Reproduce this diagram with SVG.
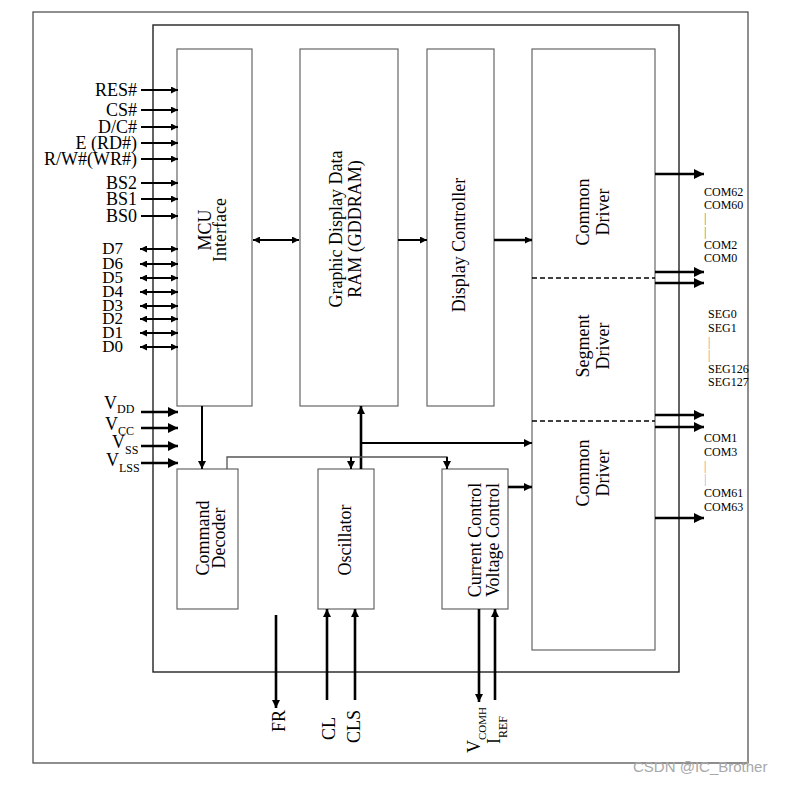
<svg xmlns="http://www.w3.org/2000/svg" width="785" height="785" viewBox="0 0 785 785">
<defs>
<style>
.t{font-family:"Liberation Serif","Times New Roman",serif;font-size:18px;fill:#000}
.d{font-size:17px}
.bl{font-family:"Liberation Serif","Times New Roman",serif;font-size:18px;fill:#000;text-anchor:middle}
.sub{font-size:12px}
.r{text-anchor:end}
.pin{font-family:"Liberation Serif","Times New Roman",serif;font-size:12px;fill:#000}
.g{fill:#3c9a50}
.o{fill:#e07a5f}
.b{fill:#7ab8e0}
.box{fill:#fff;stroke:#666;stroke-width:1.2}
.ln{stroke:#000;stroke-width:2;fill:none}
.thk{stroke:#000;stroke-width:2.6;fill:none}
.thin{stroke:#555;stroke-width:1.3;fill:none}
.dash{stroke:#000;stroke-width:1.5;stroke-dasharray:5 3;fill:none}
</style>
<marker id="sm" viewBox="0 0 10 10" refX="10" refY="5" markerWidth="7" markerHeight="7" markerUnits="userSpaceOnUse" orient="auto-start-reverse"><path d="M0,0L10,5L0,10z" fill="#000"/></marker>
<marker id="md" viewBox="0 0 10 10" refX="10" refY="5" markerWidth="9" markerHeight="8" markerUnits="userSpaceOnUse" orient="auto-start-reverse"><path d="M0,0L10,5L0,10z" fill="#000"/></marker>
<marker id="lg" viewBox="0 0 10 10" refX="10" refY="5" markerWidth="12" markerHeight="10" markerUnits="userSpaceOnUse" orient="auto-start-reverse"><path d="M0,0L10,5L0,10z" fill="#000"/></marker>
</defs>
<rect width="785" height="785" fill="#fff"/>
<rect id="frame" x="33" y="12" width="715" height="751" fill="none" stroke="#444" stroke-width="1.2"/>
<rect id="chip" x="153" y="25" width="526" height="647" fill="none" stroke="#222" stroke-width="1.4"/>

<g id="mcu"><rect class="box" x="177" y="49" width="75" height="357"/>
<text class="bl" transform="translate(211,230) rotate(-90)"><tspan x="0" y="0">MCU</tspan><tspan x="0" y="15">Interface</tspan></text></g>
<g id="gddram"><rect class="box" x="300" y="49" width="98" height="357"/>
<text class="bl" transform="translate(342,229) rotate(-90)"><tspan x="0" y="0">Graphic Display Data</tspan><tspan x="0" y="19">RAM (GDDRAM)</tspan></text></g>
<g id="dispctrl"><rect class="box" x="427" y="49" width="67" height="357"/>
<text class="bl" transform="translate(465,245) rotate(-90)">Display Controller</text></g>
<g id="drivers"><rect class="box" x="532" y="49" width="123" height="601"/>
<text class="bl" transform="translate(589,212) rotate(-90)"><tspan x="0" y="0">Common</tspan><tspan x="0" y="20">Driver</tspan></text>
<text class="bl" transform="translate(589,346) rotate(-90)"><tspan x="0" y="0">Segment</tspan><tspan x="0" y="20">Driver</tspan></text>
<text class="bl" transform="translate(589,473) rotate(-90)"><tspan x="0" y="0">Common</tspan><tspan x="0" y="20">Driver</tspan></text>
<line class="dash" x1="532" y1="278" x2="655" y2="278"/>
<line class="dash" x1="532" y1="421" x2="655" y2="421"/></g>
<g id="cmddec"><rect class="box" x="177" y="469" width="61" height="140"/>
<text class="bl" transform="translate(209,538) rotate(-90)"><tspan x="0" y="0">Command</tspan><tspan x="0" y="16">Decoder</tspan></text></g>
<g id="osc"><rect class="box" x="318" y="469" width="56" height="140"/>
<text class="bl" transform="translate(351,540) rotate(-90)">Oscillator</text></g>
<g id="curctl"><rect class="box" x="442" y="469" width="66" height="140"/>
<text class="bl" transform="translate(481,540) rotate(-90)"><tspan x="0" y="0">Current Control</tspan><tspan x="0" y="18">Voltage Control</tspan></text></g>

<g id="connectors">
<line class="ln" x1="141" y1="90" x2="178" y2="90" marker-end="url(#sm)"/>
<line class="ln" x1="141" y1="110" x2="178" y2="110" marker-end="url(#sm)"/>
<line class="ln" x1="141" y1="127" x2="178" y2="127" marker-end="url(#sm)"/>
<line class="ln" x1="141" y1="143" x2="178" y2="143" marker-end="url(#sm)"/>
<line class="ln" x1="141" y1="159" x2="178" y2="159" marker-end="url(#sm)"/>
<line class="ln" x1="141" y1="183" x2="178" y2="183" marker-end="url(#sm)"/>
<line class="ln" x1="141" y1="199" x2="178" y2="199" marker-end="url(#sm)"/>
<line class="ln" x1="141" y1="216" x2="178" y2="216" marker-end="url(#sm)"/>
<line class="ln" x1="140" y1="249" x2="178" y2="249" marker-start="url(#sm)" marker-end="url(#sm)"/>
<line class="ln" x1="140" y1="264" x2="178" y2="264" marker-start="url(#sm)" marker-end="url(#sm)"/>
<line class="ln" x1="140" y1="278" x2="178" y2="278" marker-start="url(#sm)" marker-end="url(#sm)"/>
<line class="ln" x1="140" y1="292" x2="178" y2="292" marker-start="url(#sm)" marker-end="url(#sm)"/>
<line class="ln" x1="140" y1="306" x2="178" y2="306" marker-start="url(#sm)" marker-end="url(#sm)"/>
<line class="ln" x1="140" y1="319" x2="178" y2="319" marker-start="url(#sm)" marker-end="url(#sm)"/>
<line class="ln" x1="140" y1="333" x2="178" y2="333" marker-start="url(#sm)" marker-end="url(#sm)"/>
<line class="ln" x1="140" y1="347" x2="178" y2="347" marker-start="url(#sm)" marker-end="url(#sm)"/>
<line class="thk" x1="141" y1="412" x2="178" y2="412" marker-end="url(#lg)"/>
<line class="thk" x1="141" y1="428" x2="178" y2="428" marker-end="url(#lg)"/>
<line class="thk" x1="141" y1="446" x2="178" y2="446" marker-end="url(#lg)"/>
<line class="thk" x1="141" y1="463" x2="178" y2="463" marker-end="url(#lg)"/>
<line class="ln" x1="253" y1="240" x2="299" y2="240" marker-start="url(#sm)" marker-end="url(#sm)"/>
<line class="ln" x1="398" y1="240" x2="427" y2="240" marker-end="url(#sm)"/>
<line class="thk" x1="494" y1="240" x2="532" y2="240" marker-end="url(#sm)"/>
<line class="ln" x1="202" y1="406" x2="202" y2="469" marker-end="url(#md)"/>
<line class="thk" x1="361" y1="469" x2="361" y2="406" marker-end="url(#md)"/>
<line class="ln" x1="361" y1="443" x2="532" y2="443" marker-end="url(#md)"/>
<polyline class="thin" points="227,469 227,457 447,457 447,469"/>
<line class="ln" x1="447" y1="457" x2="447" y2="469" marker-end="url(#md)"/>
<line class="ln" x1="351" y1="457" x2="351" y2="469" marker-end="url(#md)"/>
<line class="thk" x1="508" y1="487" x2="532" y2="487" marker-end="url(#md)"/>
<line class="thk" x1="655" y1="174" x2="704" y2="174" marker-end="url(#lg)"/>
<line class="thk" x1="655" y1="272" x2="704" y2="272" marker-end="url(#lg)"/>
<line class="thk" x1="655" y1="283" x2="704" y2="283" marker-end="url(#lg)"/>
<line class="thk" x1="655" y1="415" x2="704" y2="415" marker-end="url(#lg)"/>
<line class="thk" x1="655" y1="427" x2="704" y2="427" marker-end="url(#lg)"/>
<line class="thk" x1="655" y1="518" x2="704" y2="518" marker-end="url(#lg)"/>
<line class="thk" x1="276" y1="615" x2="276" y2="708" marker-end="url(#md)"/>
<line class="thk" x1="327" y1="700" x2="327" y2="609" marker-end="url(#md)"/>
<line class="thk" x1="355" y1="700" x2="355" y2="609" marker-end="url(#md)"/>
<line class="thk" x1="479" y1="609" x2="479" y2="702" marker-end="url(#md)"/>
<line class="thk" x1="495" y1="700" x2="495" y2="609" marker-end="url(#md)"/>
</g>

<g id="left-labels">
<text class="t r" x="137" y="96">RES#</text>
<text class="t r" x="137" y="116">CS#</text>
<text class="t r" x="137" y="133">D/C#</text>
<text class="t r" x="137" y="149">E (RD#)</text>
<text class="t r" x="137" y="165">R/W#(WR#)</text>
<text class="t r" x="137" y="189">BS2</text>
<text class="t r" x="137" y="205">BS1</text>
<text class="t r" x="137" y="222">BS0</text>
<text class="t d r" x="123" y="254">D7</text>
<text class="t d r" x="123" y="269">D6</text>
<text class="t d r" x="123" y="283">D5</text>
<text class="t d r" x="123" y="297">D4</text>
<text class="t d r" x="123" y="311">D3</text>
<text class="t d r" x="123" y="324">D2</text>
<text class="t d r" x="123" y="338">D1</text>
<text class="t d r" x="123" y="352">D0</text>
<text class="t" x="104" y="409">V<tspan class="sub" dy="4">DD</tspan></text>
<text class="t" x="105" y="430">V<tspan class="sub" dy="5">CC</tspan></text>
<text class="t" x="112" y="448">V<tspan class="sub" dy="6">SS</tspan></text>
<text class="t" x="106" y="466">V<tspan class="sub" dy="6">LSS</tspan></text>
</g>

<g id="right-labels">
<text class="pin" x="704" y="196">COM62</text>
<text class="pin" x="704" y="209">COM60</text>
<text class="pin g" x="704" y="222">|</text>
<text class="pin g" x="704" y="236">|</text>
<text class="pin" x="704" y="249">COM2</text>
<text class="pin" x="704" y="262">COM0</text>
<text class="pin" x="708" y="318">SEG0</text>
<text class="pin" x="708" y="332">SEG1</text>
<text class="pin o" x="708" y="346">|</text>
<text class="pin o" x="708" y="359">|</text>
<text class="pin" x="708" y="373">SEG126</text>
<text class="pin" x="708" y="386">SEG127</text>
<text class="pin" x="704" y="442">COM1</text>
<text class="pin" x="704" y="456">COM3</text>
<text class="pin o" x="704" y="470">|</text>
<text class="pin b" x="704" y="483">|</text>
<text class="pin" x="704" y="497">COM61</text>
<text class="pin" x="704" y="511">COM63</text>
</g>

<g id="bottom-labels">
<text class="t" transform="translate(285,732) rotate(-90)">FR</text>
<text class="t" transform="translate(335,740) rotate(-90)">CL</text>
<text class="t" transform="translate(360,743) rotate(-90)">CLS</text>
<text class="t" transform="translate(480,753) rotate(-90)">V<tspan class="sub" dy="6" style="font-size:11px">COMH</tspan></text>
<text class="t" transform="translate(500,744) rotate(-90)">I<tspan class="sub" dy="7">REF</tspan></text>
</g>

<text x="633" y="772" font-family="Liberation Sans, Arial, sans-serif" font-size="15" fill="#a8a8a8">CSDN @IC_Brother</text>
</svg>
